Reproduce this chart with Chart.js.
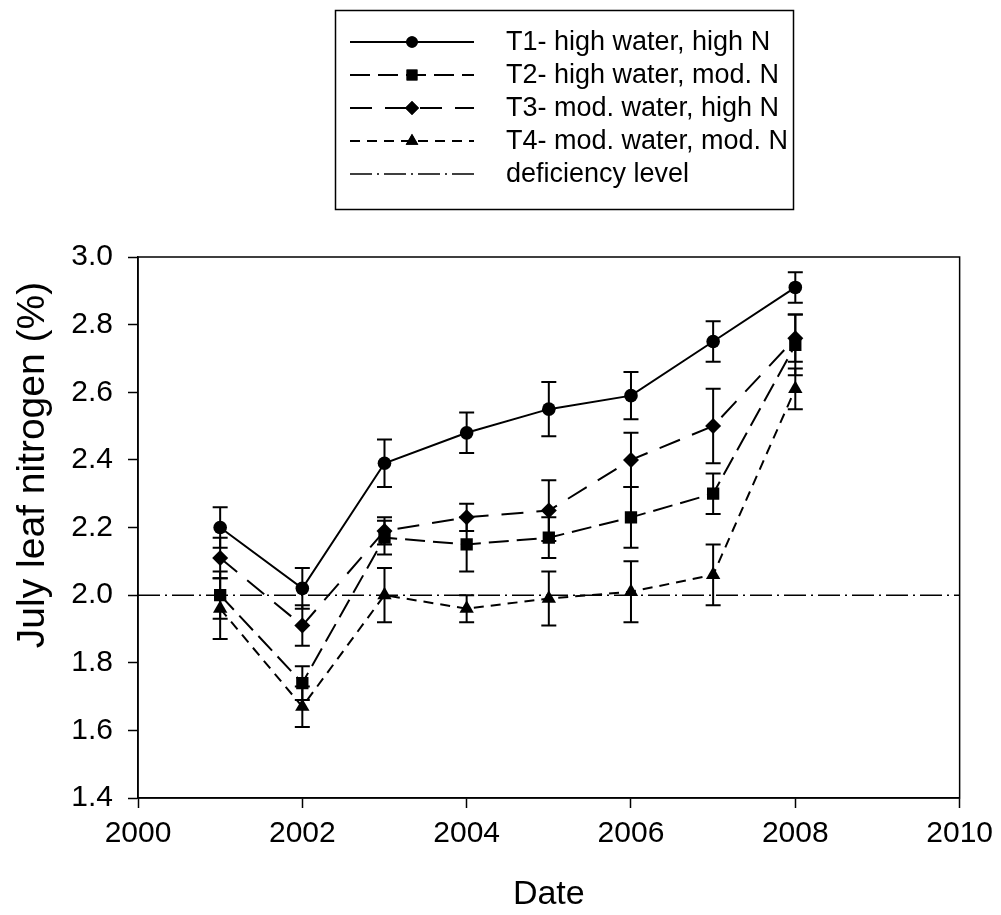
<!DOCTYPE html>
<html>
<head>
<meta charset="utf-8">
<script src="https://cdn.jsdelivr.net/npm/chart.js@4/dist/chart.umd.min.js"></script>
<style>
  html, body { margin: 0; padding: 0; background: #fff; }
  #wrap { width: 1001px; height: 915px; }
</style>
</head>
<body>
<div id="wrap"><canvas id="nChart" width="1001" height="915"></canvas></div>
<script>
const years = [2001, 2002, 2003, 2004, 2005, 2006, 2007, 2008];

const t1 = [2.20, 2.02, 2.39, 2.48, 2.55, 2.59, 2.75, 2.91];
const t1Err = [0.06, 0.06, 0.07, 0.06, 0.08, 0.07, 0.06, 0.045];

const t2 = [2.00, 1.74, 2.17, 2.15, 2.17, 2.23, 2.30, 2.74];
const t2Err = [0.07, 0.05, 0.05, 0.08, 0.06, 0.09, 0.06, 0.09];

const t3 = [2.11, 1.91, 2.19, 2.23, 2.25, 2.40, 2.50, 2.76];
const t3Err = [0.06, 0.06, 0.04, 0.04, 0.09, 0.08, 0.11, 0.07];

const t4 = [1.96, 1.67, 2.00, 1.96, 1.99, 2.01, 2.06, 2.61];
const t4Err = [0.09, 0.06, 0.08, 0.04, 0.08, 0.09, 0.09, 0.06];

const deficiencyX = [2000, 2010];
const deficiencyY = [2.0, 2.0];

const seriesLabels = [
  "T1- high water, high N",
  "T2- high water, mod. N",
  "T3- mod. water, high N",
  "T4- mod. water, mod. N",
  "deficiency level"
];

const xTicks = [2000, 2002, 2004, 2006, 2008, 2010];
const yTicks = [1.4, 1.6, 1.8, 2.0, 2.2, 2.4, 2.6, 2.8, 3.0];

const FONT = "'Liberation Sans', Arial, sans-serif";

function pts(ys) {
  return years.map((x, i) => ({ x: x, y: ys[i] }));
}

function series(label, ys, errs, style, radius, dash) {
  return {
    label: label,
    data: pts(ys),
    errors: errs,
    borderColor: "#000",
    backgroundColor: "#000",
    borderWidth: 2,
    borderDash: dash,
    pointStyle: style,
    pointRadius: radius,
    pointBorderWidth: 0,
    pointBackgroundColor: "#000",
    tension: 0
  };
}

const datasets = [
  series(seriesLabels[0], t1, t1Err, "circle", 6.8, []),
  series(seriesLabels[1], t2, t2Err, "rect", 8.7, [20, 8]),
  series(seriesLabels[2], t3, t3Err, "rectRot", 8, [22, 13]),
  series(seriesLabels[3], t4, t4Err, "triangle", 8.3, [10, 7]),
  {
    label: seriesLabels[4],
    data: deficiencyX.map((x, i) => ({ x: x, y: deficiencyY[i] })),
    borderColor: "#000",
    borderWidth: 1.5,
    borderDash: [22, 5, 2, 5],
    pointRadius: 0
  }
];

// error bars under the markers, frame, legend and y title on top
const extras = {
  id: "extras",
  beforeDatasetsDraw(chart) {
    const ctx = chart.ctx;
    const xs = chart.scales.x, ys = chart.scales.y;
    ctx.save();
    ctx.strokeStyle = "#000";
    ctx.lineWidth = 2;
    ctx.setLineDash([]);
    chart.data.datasets.forEach(ds => {
      if (!ds.errors) return;
      ds.data.forEach((p, i) => {
        const px = xs.getPixelForValue(p.x);
        const top = ys.getPixelForValue(p.y + ds.errors[i]);
        const bot = ys.getPixelForValue(p.y - ds.errors[i]);
        ctx.beginPath();
        ctx.moveTo(px, top); ctx.lineTo(px, bot);
        ctx.moveTo(px - 7.5, top); ctx.lineTo(px + 7.5, top);
        ctx.moveTo(px - 7.5, bot); ctx.lineTo(px + 7.5, bot);
        ctx.stroke();
      });
    });
    ctx.restore();
  },
  afterDraw(chart) {
    const ctx = chart.ctx;
    const a = chart.chartArea;
    ctx.save();
    ctx.strokeStyle = "#000";
    ctx.fillStyle = "#000";
    ctx.lineWidth = 1.5;
    ctx.setLineDash([]);
    ctx.strokeRect(a.left, a.top, a.right - a.left, a.bottom - a.top);

    // y axis title
    ctx.save();
    ctx.translate(33, 465);
    ctx.rotate(-Math.PI / 2);
    ctx.font = "39px " + FONT;
    ctx.textAlign = "center";
    ctx.textBaseline = "middle";
    ctx.fillText("July leaf nitrogen (%)", 0, 0);
    ctx.restore();

    // legend box
    ctx.strokeRect(335.5, 10.5, 458, 199);
    ctx.font = "27px " + FONT;
    ctx.textBaseline = "middle";
    chart.data.datasets.forEach((ds, i) => {
      const y = 42 + i * 33;
      ctx.save();
      ctx.lineWidth = ds.borderWidth;
      ctx.setLineDash(ds.borderDash || []);
      ctx.beginPath();
      ctx.moveTo(350, y); ctx.lineTo(474, y);
      ctx.stroke();
      ctx.restore();
      if (ds.pointRadius) {
        Chart.helpers.drawPoint(ctx, {
          pointStyle: ds.pointStyle,
          radius: ds.pointRadius - 1,
          rotation: 0,
          borderWidth: 0
        }, 412, y);
        ctx.fill();
      }
      ctx.fillText(ds.label, 506, y + 1);
    });
    ctx.restore();
  }
};

new Chart(document.getElementById("nChart"), {
  type: "line",
  data: { datasets: datasets },
  plugins: [extras],
  options: {
    responsive: false,
    animation: false,
    layout: { padding: { top: 257, right: 41, left: 0, bottom: 0 } },
    plugins: { legend: { display: false }, tooltip: { enabled: false } },
    scales: {
      x: {
        type: "linear",
        min: 2000,
        max: 2010,
        afterFit(s) { s.height = 117; },
        afterBuildTicks(s) { s.ticks = xTicks.map(v => ({ value: v })); },
        border: { display: true, color: "#000", width: 1.5 },
        grid: { display: true, drawOnChartArea: false, color: "#000", tickLength: 10, tickWidth: 1.5 },
        ticks: { color: "#000", font: { family: FONT, size: 30 }, padding: 8, maxRotation: 0, callback: v => String(v) },
        title: { display: true, text: "Date", color: "#000", font: { family: FONT, size: 34 }, padding: { top: 4, bottom: 0 } }
      },
      y: {
        type: "linear",
        min: 1.4,
        max: 3.0,
        afterFit(s) { s.width = 138; },
        afterBuildTicks(s) { s.ticks = yTicks.map(v => ({ value: v })); },
        border: { display: true, color: "#000", width: 1.5 },
        grid: { display: true, drawOnChartArea: false, color: "#000", tickLength: 10, tickWidth: 1.5 },
        ticks: { color: "#000", font: { family: FONT, size: 30 }, padding: 15, callback: v => v.toFixed(1) },
        title: { display: false }
      }
    }
  }
});
</script>
</body>
</html>
